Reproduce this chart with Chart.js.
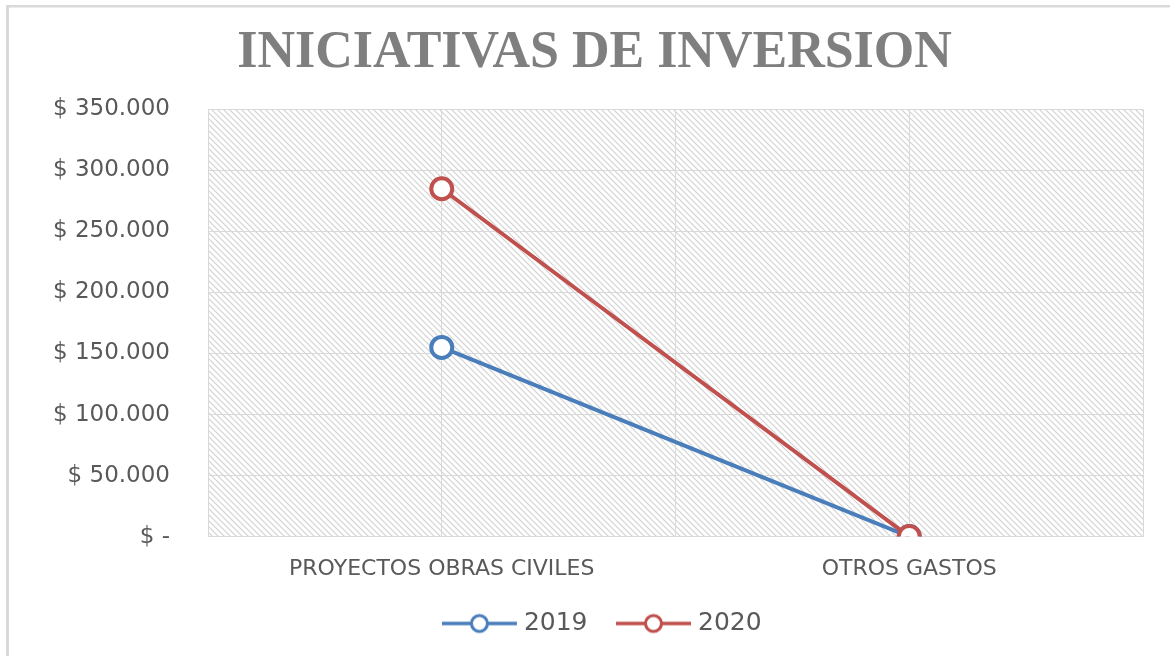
<!DOCTYPE html>
<html lang="es">
<head>
<meta charset="UTF-8">
<title>Iniciativas de Inversion</title>
<script src="https://cdn.jsdelivr.net/npm/chart.js@4"></script>
<style>
  * { margin: 0; padding: 0; box-sizing: border-box; }
  html, body { width: 1170px; height: 656px; background: #fff; overflow: hidden; }
  #wrap { position: relative; width: 1170px; height: 656px; }
</style>
</head>
<body>
<div id="wrap"><canvas id="chart"></canvas></div>
<script>
  const categories = ['PROYECTOS OBRAS CIVILES', 'OTROS GASTOS'];
  const seriesNames = ['2019', '2020'];
  const values2019 = [155000, 0];
  const values2020 = [285000, 0];
  const yTicks = [0, 50000, 100000, 150000, 200000, 250000, 300000, 350000];

  const blue = '#4a7ebb', red = '#c0504d', grid = '#d9d9d9', txt = '#595959';

  // thousands with dots, zero shown as "$ -"
  const money = (v) => v === 0 ? '$ -' : '$ ' + String(v).replace(/\B(?=(\d{3})+(?!\d))/g, '.');

  // diagonal hatch for the plot area
  function makeHatch() {
    const p = 6, c = document.createElement('canvas');
    c.width = p; c.height = p;
    const g = c.getContext('2d');
    g.strokeStyle = '#d2d2d2'; g.lineWidth = 1.2;
    g.beginPath();
    g.moveTo(-1, -1); g.lineTo(p + 1, p + 1);
    g.moveTo(-1, p - 1); g.lineTo(1, p + 1);
    g.moveTo(p - 1, -1); g.lineTo(p + 1, 1);
    g.stroke();
    return c;
  }

  // legend swatch: line with hollow circle, left part transparent for spacing
  function makeSwatch(color) {
    const c = document.createElement('canvas');
    c.width = 103; c.height = 24;
    const g = c.getContext('2d');
    g.strokeStyle = color; g.lineWidth = 3.5;
    g.beginPath(); g.moveTo(26, 12); g.lineTo(101, 12); g.stroke();
    g.beginPath(); g.arc(63.5, 12, 8, 0, Math.PI * 2);
    g.fillStyle = '#fff'; g.fill(); g.lineWidth = 3; g.stroke();
    return c;
  }
  const swatches = [makeSwatch(blue), makeSwatch(red)];

  const frame = {
    id: 'frame',
    afterLayout(chart) {
      // nudge the legend so the visible part sits where the original does
      chart.legend.left -= 2;
      chart.legend.right -= 2;
    },
    beforeDraw(chart) {
      const { ctx, chartArea: a } = chart;
      ctx.save();
      ctx.fillStyle = '#fff';
      ctx.fillRect(0, 0, chart.width, chart.height);
      ctx.fillStyle = '#d9d9d9';
      ctx.fillRect(6, 5, chart.width - 6, 2.5);
      ctx.fillRect(6, 5, 3, chart.height - 5);
      ctx.fillStyle = ctx.createPattern(makeHatch(), 'repeat');
      ctx.fillRect(a.left, a.top, a.right - a.left, a.bottom - a.top);
      ctx.restore();
    }
  };

  // 2020 is drawn on top of 2019 (lower order = drawn last)
  const ds = (label, data, color, order) => ({
    label, data, order, borderColor: color, backgroundColor: '#fff',
    borderWidth: 4, pointRadius: 10.5, pointHoverRadius: 10.5, pointBorderWidth: 4,
    pointBackgroundColor: '#fff', pointBorderColor: color, tension: 0, xAxisID: 'x'
  });

  new Chart(document.getElementById('chart'), {
    type: 'line',
    data: {
      labels: categories,
      datasets: [ds(seriesNames[0], values2019, blue, 1), ds(seriesNames[1], values2020, red, 0)]
    },
    options: {
      responsive: true,
      maintainAspectRatio: false,
      animation: false,
      layout: { padding: { left: 46, right: 27, top: 0, bottom: 10 } },
      plugins: {
        title: {
          display: true, text: 'INICIATIVAS DE INVERSION', color: '#7f7f7f',
          font: { family: '"Liberation Serif", "DejaVu Serif", serif', size: 52, weight: 'bold' },
          padding: { top: 22, bottom: 25 }
        },
        legend: {
          position: 'bottom',
          labels: {
            color: txt, usePointStyle: true, pointStyleWidth: 88, padding: 10,
            font: { family: '"DejaVu Sans", sans-serif', size: 25 },
            sort: (a, b) => a.datasetIndex - b.datasetIndex,
            generateLabels(chart) {
              return Chart.defaults.plugins.legend.labels.generateLabels(chart)
                .map(l => Object.assign(l, { pointStyle: swatches[l.datasetIndex] }));
            }
          }
        },
        tooltip: { enabled: false }
      },
      scales: {
        x: {
          type: 'category', offset: true,
          grid: { offset: true, color: grid, drawTicks: false },
          border: { display: false },
          ticks: { color: txt, padding: 19, font: { family: '"DejaVu Sans", sans-serif', size: 22 } }
        },
        x2: {
          type: 'category', labels: categories, offset: true, position: 'top',
          grid: { offset: false, color: grid, drawTicks: false },
          border: { display: false },
          ticks: { display: false }
        },
        y: {
          min: 0, max: 350000,
          afterBuildTicks: (s) => { s.ticks = yTicks.map(v => ({ value: v })); },
          afterFit: (s) => { s.width = 162; },
          grid: { color: grid, drawTicks: false },
          border: { display: false },
          ticks: { color: txt, padding: 38, callback: money, font: { family: '"DejaVu Sans", sans-serif', size: 23 } }
        }
      }
    },
    plugins: [frame]
  });
</script>
</body>
</html>
